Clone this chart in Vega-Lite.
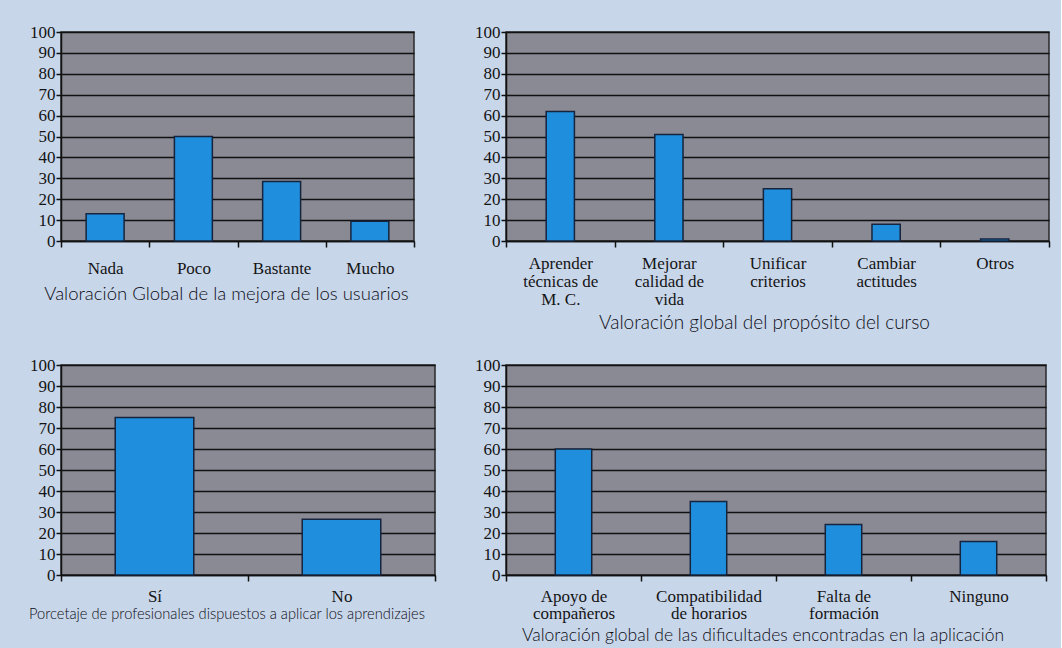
{
  "$schema": "https://vega.github.io/schema/vega-lite/v6.json",
  "background": "#c8d6ea",
  "padding": {"left": 28, "top": 22, "right": 10, "bottom": 8},
  "columns": 2,
  "bounds": "flush",
  "spacing": {"row": 124, "column": 71},
  "concat": [
    {
      "width": 353,
      "height": 209,
      "data": {"values": [
        {"categoria": "Nada", "valor": 13},
        {"categoria": "Poco", "valor": 50},
        {"categoria": "Bastante", "valor": 28.5},
        {"categoria": "Mucho", "valor": 9.5}
      ]},
      "title": {"text": "Valoración Global de la mejora de los usuarios", "fontSize": 18.5, "offset": 9, "dx": -11},
      "mark": {"type": "bar", "width": {"band": 0.43}},
      "encoding": {
        "x": {"field": "categoria", "type": "nominal", "sort": null, "title": null, "scale": {"paddingInner": 0, "paddingOuter": 0}, "axis": {"labelPadding": 13}},
        "y": {"field": "valor", "type": "quantitative", "title": null, "scale": {"domain": [0, 100]}, "axis": {"values": [0, 10, 20, 30, 40, 50, 60, 70, 80, 90, 100]}}
      }
    },
    {
      "width": 543,
      "height": 209,
      "data": {"values": [
        {"categoria": "Aprender técnicas de M. C.", "valor": 62},
        {"categoria": "Mejorar calidad de vida", "valor": 51},
        {"categoria": "Unificar criterios", "valor": 25},
        {"categoria": "Cambiar actitudes", "valor": 8},
        {"categoria": "Otros", "valor": 1}
      ]},
      "title": {"text": "Valoración global del propósito del curso", "fontSize": 19, "offset": 7, "dx": -13},
      "mark": {"type": "bar", "width": {"band": 0.26}},
      "encoding": {
        "x": {"field": "categoria", "type": "nominal", "sort": null, "title": null, "scale": {"paddingInner": 0, "paddingOuter": 0}, "axis": {"labelPadding": 8, "labelExpr": "datum.label == 'Aprender técnicas de M. C.' ? ['Aprender', 'técnicas de', 'M. C.'] : datum.label == 'Mejorar calidad de vida' ? ['Mejorar', 'calidad de', 'vida'] : datum.label == 'Unificar criterios' ? ['Unificar', 'criterios'] : datum.label == 'Cambiar actitudes' ? ['Cambiar', 'actitudes'] : datum.label"}},
        "y": {"field": "valor", "type": "quantitative", "title": null, "scale": {"domain": [0, 100]}, "axis": {"values": [0, 10, 20, 30, 40, 50, 60, 70, 80, 90, 100]}}
      }
    },
    {
      "width": 374,
      "height": 210,
      "data": {"values": [
        {"categoria": "Sí", "valor": 75},
        {"categoria": "No", "valor": 26.5}
      ]},
      "title": {"text": "Porcetaje de profesionales dispuestos a aplicar los aprendizajes", "fontSize": 14.7, "offset": 3, "dx": -21},
      "mark": {"type": "bar", "width": {"band": 0.42}},
      "encoding": {
        "x": {"field": "categoria", "type": "nominal", "sort": null, "title": null, "scale": {"paddingInner": 0, "paddingOuter": 0}, "axis": {"labelPadding": 7}},
        "y": {"field": "valor", "type": "quantitative", "title": null, "scale": {"domain": [0, 100]}, "axis": {"values": [0, 10, 20, 30, 40, 50, 60, 70, 80, 90, 100]}}
      }
    },
    {
      "width": 540,
      "height": 210,
      "data": {"values": [
        {"categoria": "Apoyo de compañeros", "valor": 60},
        {"categoria": "Compatibilidad de horarios", "valor": 35},
        {"categoria": "Falta de formación", "valor": 24},
        {"categoria": "Ninguno", "valor": 16}
      ]},
      "title": {"text": "Valoración global de las dificultades encontradas en la aplicación", "fontSize": 17.5, "offset": 5, "dx": -13},
      "mark": {"type": "bar", "width": {"band": 0.27}},
      "encoding": {
        "x": {"field": "categoria", "type": "nominal", "sort": null, "title": null, "scale": {"paddingInner": 0, "paddingOuter": 0}, "axis": {"labelPadding": 7, "labelLineHeight": 17.5, "labelExpr": "datum.label == 'Apoyo de compañeros' ? ['Apoyo de', 'compañeros'] : datum.label == 'Compatibilidad de horarios' ? ['Compatibilidad', 'de horarios'] : datum.label == 'Falta de formación' ? ['Falta de', 'formación'] : datum.label"}},
        "y": {"field": "valor", "type": "quantitative", "title": null, "scale": {"domain": [0, 100]}, "axis": {"values": [0, 10, 20, 30, 40, 50, 60, 70, 80, 90, 100]}}
      }
    }
  ],
  "config": {
    "view": {"fill": "#8a8a94", "stroke": "#2a2a2a", "strokeWidth": 1.5},
    "bar": {"fill": "#1f8edc", "stroke": "#16243e", "strokeWidth": 1.5},
    "title": {"orient": "bottom", "anchor": "middle", "font": "Lato", "fontWeight": 300, "color": "#0c0c14"},
    "axis": {
      "labelFont": "Liberation Serif",
      "labelFontSize": 17,
      "labelColor": "#141414",
      "domainColor": "#111111",
      "domainWidth": 1.5,
      "tickColor": "#111111",
      "tickWidth": 1.5,
      "tickSize": 5,
      "gridColor": "#111111",
      "gridWidth": 1.4,
      "gridOpacity": 1,
      "labelLineHeight": 18
    },
    "axisX": {"labelAngle": 0, "tickBand": "extent", "grid": false, "tickSize": 6, "labelBaseline": "top"},
    "axisY": {"grid": true, "labelPadding": 1}
  }
}
